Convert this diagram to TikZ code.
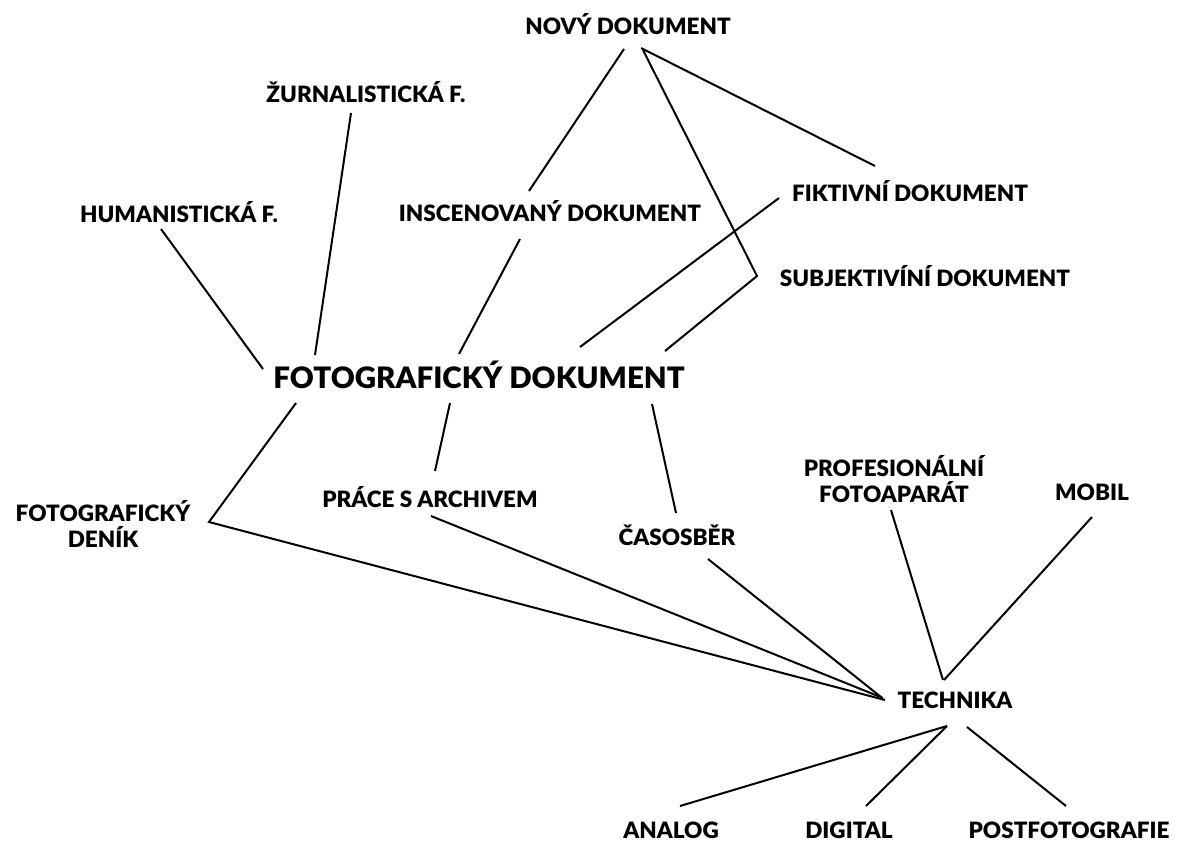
\documentclass[tikz,border=0pt]{standalone}
\usepackage{fontspec}
\setmainfont{Lato}[BoldFont={Lato Black}]

\begin{document}
\begin{tikzpicture}[x=1pt,y=-1pt,line width=2pt,
	lbl/.style={inner sep=0pt,font=\bfseries\fontsize{22.5}{26}\selectfont,text height=16pt,text depth=0pt},
	big/.style={lbl,font=\bfseries\fontsize{29.5}{34}\selectfont,text height=21pt},
	lbltwo/.style={inner sep=0pt,align=center,font=\bfseries\fontsize{22.5}{26}\selectfont}]
			\fill[white] (0,0) rectangle (1177,841);
			\useasboundingbox (0,0) rectangle (1177,841);
			\node[lbl] (novy)at(628,26) {NOVÝ DOKUMENT};
			\node[lbl] (zur)at(366,94) {ŽURNALISTICKÁ F.};
			\node[lbl] (hum)at(179,214) {HUMANISTICKÁ F.};
			\node[lbl] (insc)at(550,213) {INSCENOVANÝ DOKUMENT};
			\node[lbl] (fikt)at(910,193) {FIKTIVNÍ DOKUMENT};
			\node[lbl] (subj)at(925,278) {SUBJEKTIVÍNÍ DOKUMENT};
			\node[big] (foto)at(479,378) {FOTOGRAFICKÝ DOKUMENT};
			\node[lbltwo] (denik)at(103,524) {FOTOGRAFICKÝ\\DENÍK};
			\node[lbl] (prace)at(430,499) {PRÁCE S ARCHIVEM};
			\node[lbl] (casos)at(677,537) {ČASOSBĚR};
			\node[lbltwo] (prof)at(894,479) {PROFESIONÁLNÍ\\FOTOAPARÁT};
			\node[lbl] (mobil)at(1092,492) {MOBIL};
			\node[lbl] (tech)at(955,700) {TECHNIKA};
			\node[lbl] (analog)at(671,830) {ANALOG};
			\node[lbl] (digital)at(849,830) {DIGITAL};
			\node[lbl] (post)at(1069,830) {POSTFOTOGRAFIE};
			\coordinate (subjbend) at ([shift={(-168,-2)}]subj.center);
			\coordinate (denikbend) at ([shift={(106,-2)}]denik.center);
			\draw ([shift={(-15,19)}]zur.center) -- ([shift={(-164,-23)}]foto.center);
			\draw ([shift={(-18,15)}]hum.center) -- ([shift={(-216,-9)}]foto.center);
			\draw ([shift={(-4,23)}]novy.center) -- ([shift={(-21,-22)}]insc.center);
			\draw ([shift={(-30,26)}]insc.center) -- ([shift={(-20,-24)}]foto.center);
			\draw ([shift={(13,22)}]novy.center) -- ([shift={(-35,-27)}]fikt.center);
			\draw ([shift={(15,24)}]novy.center) -- (subjbend) -- ([shift={(186,-27)}]foto.center);
			\draw ([shift={(-131,5)}]fikt.center) -- ([shift={(101,-31)}]foto.center);
			\draw ([shift={(-29,25)}]foto.center) -- ([shift={(5,-28)}]prace.center);
			\draw ([shift={(173,26)}]foto.center) -- ([shift={(-1,-24)}]casos.center);
			\draw ([shift={(-183,25)}]foto.center) -- (denikbend) -- ([shift={(-70,0)}]tech.center);
			\draw ([shift={(1,17)}]prace.center) -- ([shift={(-72,-2)}]tech.center);
			\draw ([shift={(31,22)}]casos.center) -- ([shift={(-74,-3)}]tech.center);
			\draw ([shift={(-3,31)}]prof.center) -- ([shift={(-12,-20)}]tech.center);
			\draw ([shift={(0,25)}]mobil.center) -- ([shift={(-11,-20)}]tech.center);
			\draw ([shift={(-8,26)}]tech.center) -- ([shift={(9,-24)}]analog.center);
			\draw ([shift={(-8,26)}]tech.center) -- ([shift={(17,-24)}]digital.center);
			\draw ([shift={(12,27)}]tech.center) -- ([shift={(-3,-24)}]post.center);
		\end{tikzpicture}
\end{document}
